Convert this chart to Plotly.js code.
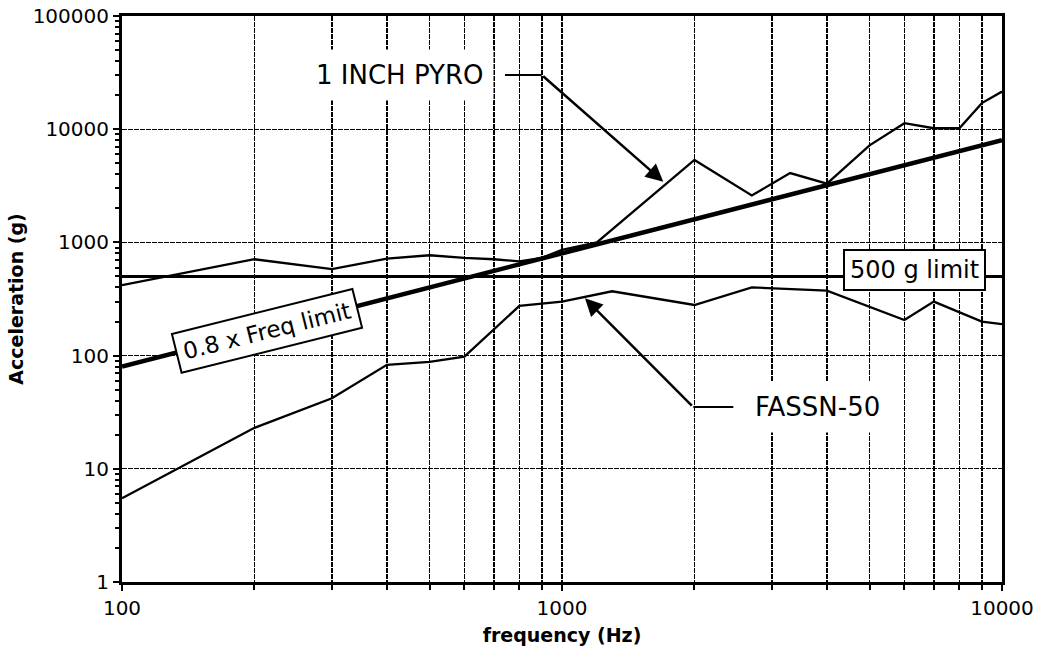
<!DOCTYPE html>
<html>
<head>
<meta charset="utf-8">
<script src="https://cdn.plot.ly/plotly-3.0.1.min.js"></script>
<style>html,body{margin:0;padding:0;background:#fff;}#chart{width:1039px;height:658px;}</style>
</head>
<body>
<div id="chart"></div>
<script>
// ---- data ----
var pyroFreq = [100, 200, 300, 400, 500, 600, 700, 800, 900, 1000, 1200, 2000, 2700, 3300, 4000, 5000, 6000, 7000, 8000, 9000, 10000];
var pyroAccel = [420, 710, 580, 720, 770, 730, 710, 680, 730, 860, 1000, 5350, 2600, 4100, 3300, 7200, 11300, 10200, 10200, 17000, 21500];

var fassnFreq = [100, 200, 300, 400, 500, 600, 800, 1000, 1300, 2000, 2700, 4000, 6000, 7000, 9000, 10000];
var fassnAccel = [5.5, 23, 42, 83, 88, 98, 275, 300, 370, 280, 400, 375, 206, 300, 200, 190];

var freqLimitFreq = [100, 10000];
var freqLimitAccel = [80, 8000];

var gLimitFreq = [100, 10000];
var gLimitAccel = [500, 500];

var xTickVals = [100, 1000, 10000];
var xTickText = ['100', '1000', '10000'];
var yTickVals = [1, 10, 100, 1000, 10000, 100000];
var yTickText = ['1', '10', '100', '1000', '10000', '100000'];

// ---- chart ----
var FONT = 'DejaVu Sans, Arial, sans-serif';
function line(x, y, w) {
  return {x: x, y: y, type: 'scatter', mode: 'lines', line: {color: '#000', width: w},
          showlegend: false, hoverinfo: 'skip'};
}
var traces = [
  line(gLimitFreq, gLimitAccel, 3),
  line(freqLimitFreq, freqLimitAccel, 4.5),
  line(pyroFreq, pyroAccel, 2.3),
  line(fassnFreq, fassnAccel, 2.3)
];

var gridCol = '#000';
var layout = {
  width: 1039, height: 658,
  margin: {l: 122, r: 37, t: 16, b: 76},
  paper_bgcolor: '#fff', plot_bgcolor: '#fff',
  font: {family: FONT, color: '#000'},
  xaxis: {
    type: 'log', range: [2, 4],
    tickmode: 'array', tickvals: xTickVals, ticktext: xTickText,
    tickfont: {family: FONT, size: 20, color: '#000'},
    ticks: 'outside', ticklen: 6, tickwidth: 2, tickcolor: '#000',
    showline: true, linewidth: 3, linecolor: '#000', mirror: true,
    showgrid: true, gridcolor: gridCol, gridwidth: 1.4, griddash: '5px,1px',
    minor: {dtick: 'D1', showgrid: true, gridcolor: gridCol, gridwidth: 1.6, griddash: '5px,1px',
            ticks: 'outside', ticklen: 5, tickwidth: 2, tickcolor: '#000'},
    title: {text: '<b>frequency (Hz)</b>', font: {family: FONT, size: 19, color: '#000'}, standoff: 10},
    automargin: false, zeroline: false
  },
  yaxis: {
    type: 'log', range: [0, 5],
    tickmode: 'array', tickvals: yTickVals, ticktext: yTickText,
    tickfont: {family: FONT, size: 20, color: '#000'},
    ticks: 'outside', ticklen: 6, tickwidth: 2, tickcolor: '#000',
    showline: true, linewidth: 3, linecolor: '#000', mirror: true,
    showgrid: true, gridcolor: gridCol, gridwidth: 1.4, griddash: '5px,1px',
    minor: {dtick: 'D1', showgrid: false, ticks: 'outside', ticklen: 4, tickwidth: 2, tickcolor: '#000'},
    title: {text: '<b>Acceleration (g)</b>', font: {family: FONT, size: 19, color: '#000'}, standoff: 4},
    automargin: false, zeroline: false
  },
  shapes: [
    {type: 'line', xref: 'paper', yref: 'paper', x0: 0.4352, x1: 0.4769, y0: 0.8958, y1: 0.8958,
     line: {color: '#000', width: 2}},
    {type: 'line', xref: 'paper', yref: 'paper', x0: 0.6492, x1: 0.6947, y0: 0.3092, y1: 0.3092,
     line: {color: '#000', width: 2}}
  ],
  annotations: [
    {xref: 'paper', yref: 'paper', x: 0.3148, y: 0.8958, xanchor: 'center', yanchor: 'middle',
     text: '1 INCH PYRO', showarrow: false,
     font: {family: FONT, size: 26, color: '#000'}, bgcolor: '#fff', borderpad: 10},
    {xref: 'paper', yref: 'paper', x: 0.6151, y: 0.7073, text: '', showarrow: true,
     ax: -121.6, ay: -106.7, arrowhead: 2, arrowsize: 1.4, arrowwidth: 2.5, arrowcolor: '#000'},
    {xref: 'paper', yref: 'paper', x: 0.7903, y: 0.3092, xanchor: 'center', yanchor: 'middle',
     text: 'FASSN-50', showarrow: false,
     font: {family: FONT, size: 26, color: '#000'}, bgcolor: '#fff', borderpad: 10},
    {xref: 'paper', yref: 'paper', x: 0.5261, y: 0.5012, text: '', showarrow: true,
     ax: 108.3, ay: 108.7, arrowhead: 2, arrowsize: 1.4, arrowwidth: 2.5, arrowcolor: '#000'},
    {xref: 'paper', yref: 'paper', x: 0.9, y: 0.5512, xanchor: 'center', yanchor: 'middle',
     text: '500 g limit', showarrow: false,
     font: {family: FONT, size: 24, color: '#000'}, bgcolor: '#fff',
     bordercolor: '#000', borderwidth: 2, borderpad: 5},
    {xref: 'paper', yref: 'paper', x: 0.1644, y: 0.4435, xanchor: 'center', yanchor: 'middle',
     text: '0.8 x Freq limit', showarrow: false,
     textangle: -14, font: {family: FONT, size: 23, color: '#000'}, bgcolor: '#fff',
     bordercolor: '#000', borderwidth: 2, borderpad: 6}
  ]
};

Plotly.newPlot('chart', traces, layout, {displayModeBar: false, staticPlot: true});
</script>
</body>
</html>
